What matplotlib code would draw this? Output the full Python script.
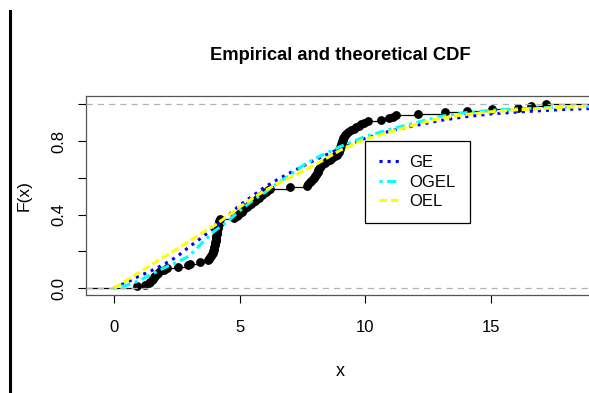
import numpy as np
import matplotlib.pyplot as plt
from matplotlib.lines import Line2D

plt.rcParams['font.family'] = ['Liberation Sans', 'DejaVu Sans']

# sorted sample behind the empirical CDF (n = 120)
sample = [0.93, 1.24, 1.38, 1.45, 1.50, 1.55, 1.60, 1.65, 1.70, 1.76,
          1.83, 1.98, 2.10, 2.56, 2.95, 3.02, 3.43, 3.76, 3.80, 3.82,
          3.86, 3.90, 3.93, 3.95, 3.97, 3.99, 4.00, 4.02, 4.03, 4.04,
          4.05, 4.06, 4.07, 4.08, 4.09, 4.10, 4.11, 4.12, 4.13, 4.15,
          4.16, 4.17, 4.19, 4.20, 4.22, 4.78, 4.90, 4.95, 5.02, 5.08,
          5.15, 5.22, 5.30, 5.38, 5.46, 5.55, 5.62, 5.70, 5.76, 5.82,
          5.90, 5.98, 6.06, 6.13, 6.20, 7.00, 7.68, 7.73, 7.80, 7.86,
          7.92, 7.97, 8.00, 8.04, 8.08, 8.11, 8.14, 8.17, 8.20, 8.25,
          8.30, 8.40, 8.50, 8.60, 8.70, 8.80, 8.88, 8.92, 8.95, 8.98,
          9.00, 9.02, 9.04, 9.06, 9.08, 9.10, 9.12, 9.14, 9.17, 9.20,
          9.26, 9.33, 9.45, 9.55, 9.65, 9.75, 9.85, 9.95, 10.10, 10.62,
          10.95, 11.10, 11.25, 12.10, 13.20, 14.05, 15.05, 16.10, 16.60, 17.20]

# fitted CDFs
curve_x = [0, 0.5, 1, 1.5, 2, 2.5, 3, 3.5, 4, 4.5, 5, 5.5, 6, 6.5, 7, 7.5,
           8, 9, 10, 11, 12, 13, 14, 15, 16, 17, 18, 19.5]
ge = [0, 0.03, 0.065, 0.095, 0.13, 0.17, 0.225, 0.275, 0.33, 0.39, 0.45,
      0.50, 0.55, 0.59, 0.627, 0.662, 0.697, 0.76, 0.815, 0.855, 0.885,
      0.913, 0.933, 0.948, 0.958, 0.966, 0.973, 0.98]
ogel = [0, 0.015, 0.04, 0.075, 0.11, 0.14, 0.175, 0.245, 0.31, 0.36, 0.42,
        0.475, 0.52, 0.57, 0.615, 0.665, 0.705, 0.77, 0.825, 0.865, 0.90,
        0.935, 0.955, 0.968, 0.976, 0.981, 0.986, 0.99]
oel = [0, 0.042, 0.085, 0.128, 0.17, 0.212, 0.255, 0.30, 0.34, 0.39, 0.44,
       0.487, 0.53, 0.567, 0.60, 0.635, 0.67, 0.75, 0.81, 0.85, 0.89,
       0.925, 0.945, 0.96, 0.97, 0.978, 0.985, 0.992]

xticks = [0, 5, 10, 15]
yticks = [0.0, 0.2, 0.4, 0.6, 0.8, 1.0]
ytick_labels = ['0.0', '', '0.4', '', '0.8', '']

W, H = 589, 393
fig = plt.figure(figsize=(W / 100, H / 100), dpi=100)
ax = fig.add_axes([86 / W, 1 - 295 / H, (594 - 86) / W, (295 - 96) / H])
ax.set_xlim(-1.116, 19.12)
ax.set_ylim(-0.038, 1.046)
xlo, xhi = ax.get_xlim()

x = np.array(sample)
F = np.arange(1, len(x) + 1) / len(x)

# ecdf: horizontal steps + points
ax.hlines(F[:-1], x[:-1], x[1:], color='black', lw=0.9, zorder=2)
ax.hlines([0, 1], [xlo, x[-1]], [x[0], xhi], color='black', lw=0.9, zorder=2)
ax.plot(x, F, 'o', color='black', ms=5.3, zorder=3)
for h in (0, 1):
    ax.axhline(h, color='#b3b3b3', lw=0.9, ls=(0, (5, 4)), zorder=3)

ax.plot(curve_x, ge, color='blue', lw=2.2, ls=':', label='GE', zorder=4)
ax.plot(curve_x, ogel, color='cyan', lw=2.2, ls=(0, (1, 1.5, 3, 1.5)),
        label='OGEL', zorder=4)
ax.plot(curve_x, oel, color='yellow', lw=2.2, ls=(0, (2.6, 1.1)),
        label='OEL', zorder=4)

ax.set_xticks(xticks)
ax.set_yticks(yticks)
ax.set_yticklabels(ytick_labels)
ax.tick_params(length=5.8, width=0.8, color='black', labelsize=12)
ax.tick_params(axis='x', pad=12)
ax.tick_params(axis='y', pad=8.5)
plt.setp(ax.get_yticklabels(), rotation=90, va='center')
for s in ax.spines.values():
    s.set_color('#555555')
    s.set_linewidth(0.9)

ax.set_xlabel('x', fontsize=13)
ax.xaxis.set_label_coords(0.5, (295 - 372) / (295 - 96))
ax.xaxis.label.set_va('center')
ax.set_ylabel('F(x)', fontsize=12.5)
ax.yaxis.set_label_coords((24 - 86) / (594 - 86), 0.5)
ax.yaxis.label.set_va('center')

fig.text(340 / W, 1 - 55 / H, 'Empirical and theoretical CDF',
         ha='center', va='center', fontsize=13.2, fontweight='bold')

leg = ax.legend(loc='upper left', bbox_to_anchor=(365 / W, 1 - 141 / H),
                bbox_transform=fig.transFigure, borderaxespad=0,
                fontsize=12, handlelength=1.25, handletextpad=0.55,
                labelspacing=0.27, borderpad=0.85, fancybox=False,
                framealpha=1, edgecolor='black')
leg.get_frame().set_linewidth(0.9)

# the black bar at the left edge of the original image
fig.add_artist(Line2D([9.5 / W, 9.5 / W], [0, 1 - 11 / H], color='black',
                      lw=2.2, transform=fig.transFigure))

fig.savefig('out.png', dpi=100)
